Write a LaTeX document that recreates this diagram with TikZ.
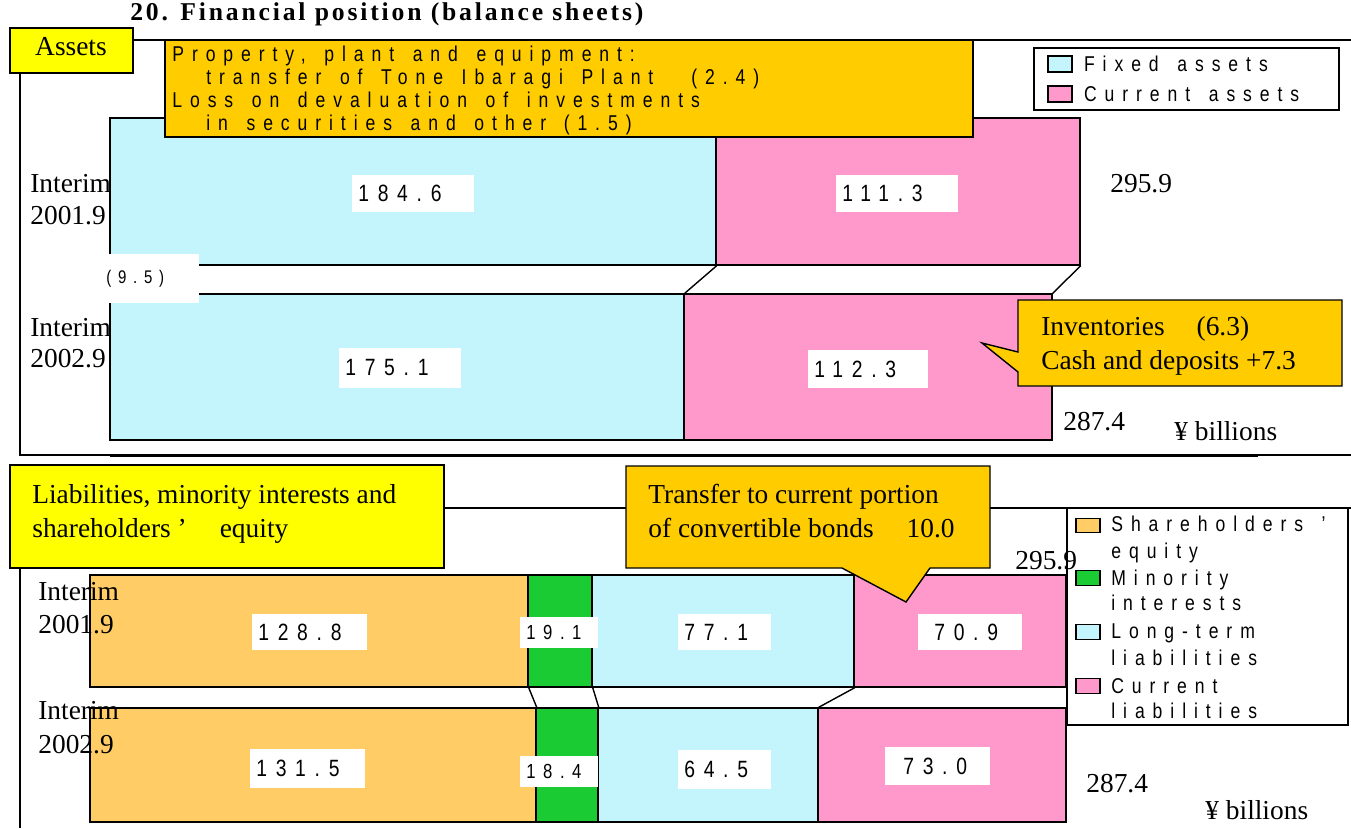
\documentclass[tikz,border=0pt]{standalone}
\usepackage{fontspec}
\setmainfont{Liberation Serif}
\newfontfamily\spacedsans[FakeStretch=0.82,LetterSpace=37,WordSpace=1.45]{Liberation Sans}
\newfontfamily\titleserif[LetterSpace=11]{Liberation Serif}
\usepackage{xcolor}
\usepackage{tikz}
\usetikzlibrary{positioning,fit}

\definecolor{fixcyan}{HTML}{C4F5FC}
\definecolor{curpink}{HTML}{FF99CC}
\definecolor{eqorange}{HTML}{FFCC66}
\definecolor{mingreen}{HTML}{1BCB33}
\definecolor{noteorange}{HTML}{FFCC00}
\definecolor{headyellow}{HTML}{FFFF00}

\begin{document}
\begin{tikzpicture}[
  x=0.02cm, y=-0.02cm,
  bar/.style={draw, line width=0.8pt, inner sep=0pt},
  frameline/.style={line width=0.9pt},
  headbox/.style={draw, line width=0.8pt, fill=headyellow, inner sep=0pt},
  notebox/.style={draw, line width=0.8pt, fill=noteorange},
  valbox/.style={fill=white, inner xsep=0.12cm, inner ysep=0pt, anchor=west,
    align=left, minimum height=0.74cm, font=\spacedsans\fontsize{13.4}{15}\selectfont},
  txtsans/.style={inner sep=0pt, anchor=base west, font=\spacedsans\fontsize{12.2}{14}\selectfont},
  txtserif/.style={inner sep=0pt, anchor=base west, font=\fontsize{15.6}{18}\selectfont},
  swatch/.style={draw, line width=0.8pt, minimum width=0.48cm, minimum height=0.32cm, inner sep=0pt}
]
\fill[white] (0,0) rectangle (1351,828);
\useasboundingbox (0,0) rectangle (1351,828);

% assets
\node[inner sep=0pt, anchor=base west, font=\titleserif\bfseries\fontsize{14.6}{16}\selectfont] (title) at (130,21) {20. Financial position (balance sheets)};
\draw[frameline] (133,40) -- (1351,40);
\draw[frameline] (20,73) -- (20,455) -- (1351,455);
\draw[frameline] (110,456.3) -- (1258,456.3);
\node[headbox, fit={(10,28) (133,73)}] (assets) {};
\node[txtserif, anchor=base] (assetslbl) at (71,56) {Assets};

\node[draw, line width=0.8pt, fill=white, inner sep=0pt, fit={(1034,48) (1339,110)}] (legA) {};
\node[swatch, fill=fixcyan] (swfix) at (1060,64) {};
\node[swatch, fill=curpink] (swcur) at (1060,94) {};
\node[txtsans, anchor=west, right=0.22cm of swfix] (lgfix) {Fixed assets};
\node[txtsans, anchor=west, right=0.22cm of swcur] (lgcur) {Current assets};

\node[bar, fill=fixcyan, fit={(110,118) (716,265)}] (fa1) {};
\node[bar, fill=curpink, fit={(716,118) (1080,265)}] (ca1) {};
\node[bar, fill=fixcyan, fit={(110,294) (684,440)}] (fa2) {};
\node[bar, fill=curpink, fit={(684,294) (1052,440)}] (ca2) {};
\draw[bar] (fa1.south east) -- (fa2.north east);
\draw[bar] (ca1.south east) -- (ca2.north east);

\node[txtserif] (yr1a) at (30,192) {Interim};
\node[txtserif] (yr1b) at (30,224) {2001.9};
\node[txtserif] (yr2a) at (30,336) {Interim};
\node[txtserif] (yr2b) at (30,367) {2002.9};

\node[valbox, text width=2.2cm] (v184) at (352,193.5) {184.6};
\node[valbox, text width=2.2cm] (v111) at (836,193.5) {111.3};
\node[valbox, text width=2.2cm, minimum height=0.8cm] (v175) at (339,368) {175.1};
\node[valbox, text width=2.16cm, minimum height=0.76cm] (v112) at (808,369) {112.3};
\node[valbox, text width=1.74cm, minimum height=0.98cm, font=\spacedsans\fontsize{10.4}{12}\selectfont] (v95) at (100,278.5) {(9.5)};

\node[notebox, inner sep=0pt, fit={(165,40) (973,137)}] (ppebox) {};
\node[txtsans] (ppe1) at (172,62) {Property, plant and equipment:};
\node[txtsans] (ppe2) at (206,85) {transfer of Tone Ibaragi Plant\hspace{0.76cm}(2.4)};
\node[txtsans] (ppe3) at (172,108) {Loss on devaluation of investments};
\node[txtsans] (ppe4) at (206,131) {in securities and other\hspace{0.35cm}(1.5)};

\draw[notebox] (1018,300) -- (1342,300) -- (1342,386) -- (1018,386) -- (1018,372) -- (982,343) -- (1018,352) -- cycle;
\node[txtserif] (inv) at (1041,335) {Inventories\hspace{0.64cm}(6.3)};
\node[txtserif] (cash) at (1041,369) {Cash and deposits +7.3};

\node[txtserif] (totA1) at (1110,192) {295.9};
\node[txtserif] (totA2) at (1063,430) {287.4};
\node[txtserif] (unitA) at (1174,440) {¥ billions};

% liabilities and equity
\draw[frameline] (444,508) -- (1351,508);
\draw[frameline] (20,568) -- (20,828);
\node[headbox, fit={(10,465) (444,568)}] (liab) {};
\node[txtserif] (liab1) at (32,503) {Liabilities, minority interests and};
\node[txtserif] (liab2) at (32,537) {shareholders ’\hspace{0.66cm}equity};

\node[draw, line width=0.8pt, fill=white, inner sep=0pt, fit={(1067,508) (1348,725)}] (legB) {};
\node[swatch, fill=eqorange, minimum height=0.29cm] (sweq) at (1088,525.5) {};
\node[swatch, fill=mingreen, minimum height=0.29cm] (swmin) at (1088,578) {};
\node[swatch, fill=fixcyan, minimum height=0.29cm] (swlt) at (1088,632) {};
\node[swatch, fill=curpink, minimum height=0.29cm] (swcl) at (1088,686) {};
\node[txtsans] (lgeq1) at (1111,531) {Shareholders ’};
\node[txtsans] (lgeq2) at (1111,558) {equity};
\node[txtsans] (lgmin1) at (1111,585) {Minority};
\node[txtsans] (lgmin2) at (1111,610) {interests};
\node[txtsans] (lglt1) at (1111,638) {Long-term};
\node[txtsans] (lglt2) at (1111,665) {liabilities};
\node[txtsans] (lgcl1) at (1111,693) {Current};
\node[txtsans] (lgcl2) at (1111,718) {liabilities};

\node[bar, fill=eqorange, fit={(90,575) (528,687)}] (eq1) {};
\node[bar, fill=mingreen, fit={(528,575) (592,687)}] (mi1) {};
\node[bar, fill=fixcyan, fit={(592,575) (854,687)}] (lt1) {};
\node[bar, fill=curpink, fit={(854,575) (1066,687)}] (cl1) {};
\node[bar, fill=eqorange, fit={(90,708) (536,822)}] (eq2) {};
\node[bar, fill=mingreen, fit={(536,708) (598,822)}] (mi2) {};
\node[bar, fill=fixcyan, fit={(598,708) (818,822)}] (lt2) {};
\node[bar, fill=curpink, fit={(818,708) (1066,822)}] (cl2) {};
\draw[bar] (eq1.south east) -- (eq2.north east);
\draw[bar] (mi1.south east) -- (mi2.north east);
\draw[bar] (lt1.south east) -- (lt2.north east);

\node[txtserif] (yr3a) at (38,600) {Interim};
\node[txtserif] (yr3b) at (38,633) {2001.9};
\node[txtserif] (yr4a) at (38,719) {Interim};
\node[txtserif] (yr4b) at (38,753) {2002.9};

\node[valbox, text width=2.06cm, minimum height=0.72cm] (v128) at (252,632) {128.8};
\node[valbox, text width=1.32cm, minimum height=0.62cm, font=\spacedsans\fontsize{11.6}{13}\selectfont] (v191) at (520,632.5) {19.1};
\node[valbox, text width=1.62cm, minimum height=0.72cm] (v771) at (678,632) {77.1};
\node[valbox, text width=1.84cm, minimum height=0.72cm] (v709) at (918,632) {\hspace*{0.2cm}70.9};
\node[valbox, text width=2.06cm, minimum height=0.78cm] (v131) at (250,768.5) {131.5};
\node[valbox, text width=1.32cm, minimum height=0.62cm, font=\spacedsans\fontsize{11.6}{13}\selectfont] (v184b) at (520,771.5) {18.4};
\node[valbox, text width=1.62cm, minimum height=0.78cm] (v645) at (678,769.5) {64.5};
\node[valbox, text width=1.86cm, minimum height=0.76cm] (v730) at (885,766) {\hspace*{0.24cm}73.0};

\draw[notebox] (626,466) -- (990,466) -- (990,568) -- (930,568) -- (906,602) -- (842,568) -- (626,568) -- cycle;
\node[txtserif] (conv1) at (648,503) {Transfer to current portion};
\node[txtserif] (conv2) at (648,537) {of convertible bonds\hspace{0.66cm}10.0};

\node[txtserif] (totB1) at (1015,569) {295.9};
\node[txtserif] (totB2) at (1086,792) {287.4};
\node[txtserif] (unitB) at (1205,819) {¥ billions};
\end{tikzpicture}
\end{document}
